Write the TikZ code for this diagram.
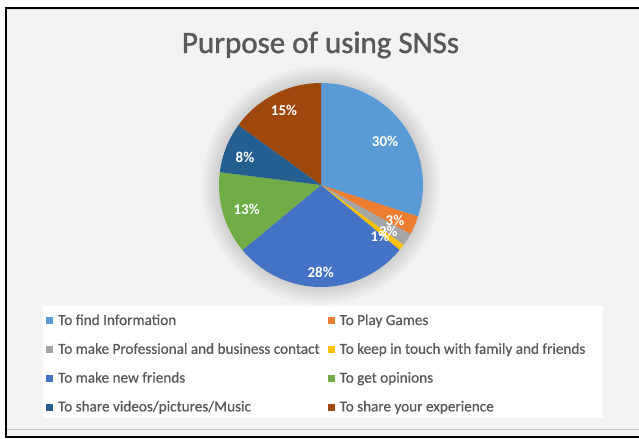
\documentclass[tikz,border=0pt]{standalone}
\usepackage{fontspec}
\setmainfont{Carlito}
\newfontfamily\titlefont{Carlito}[FakeBold=1.3]
\newfontfamily\legfont{Carlito}[FakeBold=0.6]
\definecolor{cA}{HTML}{5B9BD5}
\definecolor{cB}{HTML}{ED7D31}
\definecolor{cC}{HTML}{A5A5A5}
\definecolor{cD}{HTML}{FFC000}
\definecolor{cE}{HTML}{4472C4}
\definecolor{cF}{HTML}{70AD47}
\definecolor{cG}{HTML}{255E91}
\definecolor{cH}{HTML}{9E480E}
\definecolor{txt}{HTML}{595959}
\definecolor{bg}{HTML}{F3F3F3}
\tikzset{
  pct/.style={text=white, font=\bfseries\fontsize{15bp}{18bp}\selectfont, inner sep=0pt},
  legtxt/.style={text=txt, font=\legfont\fontsize{15.2bp}{18bp}\selectfont, anchor=base west, inner sep=0pt},
  legsq/.style={minimum size=7bp, inner sep=0pt, anchor=south west},
}
\newcommand{\slice}[3]{\fill[#1] (C) -- ++(#2:102bp) arc[start angle=#2, end angle=#3, radius=102bp] -- cycle;}
\begin{document}
\begin{tikzpicture}[x=1bp,y=1bp]
\useasboundingbox (0,0) rectangle (639,439);
\fill[white] (0,0) rectangle (639,439);
\fill[bg] (6,1.5) rectangle (639,431);
% frame
\draw[black, line width=2bp] (5,431) -- (639,431);
\draw[black, line width=2bp] (6,432) -- (6,0.5);
\draw[black, line width=2bp] (5,1.5) -- (639,1.5);
\draw[gray!45, line width=0.8bp] (7,10) -- (639,10);
\draw[gray!30, line width=0.6bp] (7.5,429.5) -- (639,429.5);
% title
\node[text=txt, font=\titlefont\fontsize{31bp}{37bp}\selectfont, anchor=base, inner sep=0pt] (title) at (320.5,386) {Purpose of using SNSs};
% pie
\coordinate (C) at (321,254);
\foreach \r in {103,104,...,120} {\fill[black, opacity=0.009] (C) circle[radius=\r bp];}
\slice{cA}{90}{-18}
\slice{cB}{-18}{-28.8}
\slice{cC}{-28.8}{-36}
\slice{cD}{-36}{-39.6}
\slice{cE}{-39.6}{-140.4}
\slice{cF}{-140.4}{-187.2}
\slice{cG}{-187.2}{-216}
\slice{cH}{-216}{-270}
\node[pct] (p30) at (385,298) {30\%};
\node[pct] (p3) at (395,218.3) {3\%};
\node[pct] (p2) at (388.3,207.3) {2\%};
\node[pct] (p1) at (380,202.3) {1\%};
\node[pct] (p28) at (320.7,166.7) {28\%};
\node[pct] (p13) at (246.7,229.7) {13\%};
\node[pct] (p8) at (245,281.7) {8\%};
\node[pct] (p15) at (284,329) {15\%};
% legend
\fill[white] (43,21) rectangle (603,133);
\node[legsq, fill=cA] (sA) at (46,114.5) {};
\node[legtxt] (lA) at (58,114) {To find Information};
\node[legsq, fill=cB] (sB) at (327.5,114.5) {};
\node[legtxt] (lB) at (339.5,114) {To Play Games};
\node[legsq, fill=cC] (sC) at (46,85.7) {};
\node[legtxt] (lC) at (58,85.2) {To make Professional and business contact};
\node[legsq, fill=cD] (sD) at (327.5,85.7) {};
\node[legtxt] (lD) at (339.5,85.2) {To keep in touch with family and friends};
\node[legsq, fill=cE] (sE) at (46,56.9) {};
\node[legtxt] (lE) at (58,56.4) {To make new friends};
\node[legsq, fill=cF] (sF) at (327.5,56.9) {};
\node[legtxt] (lF) at (339.5,56.4) {To get opinions};
\node[legsq, fill=cG] (sG) at (46,28.1) {};
\node[legtxt] (lG) at (58,27.6) {To share videos/pictures/Music};
\node[legsq, fill=cH] (sH) at (327.5,28.1) {};
\node[legtxt] (lH) at (339.5,27.6) {To share your experience};
\end{tikzpicture}
\end{document}
